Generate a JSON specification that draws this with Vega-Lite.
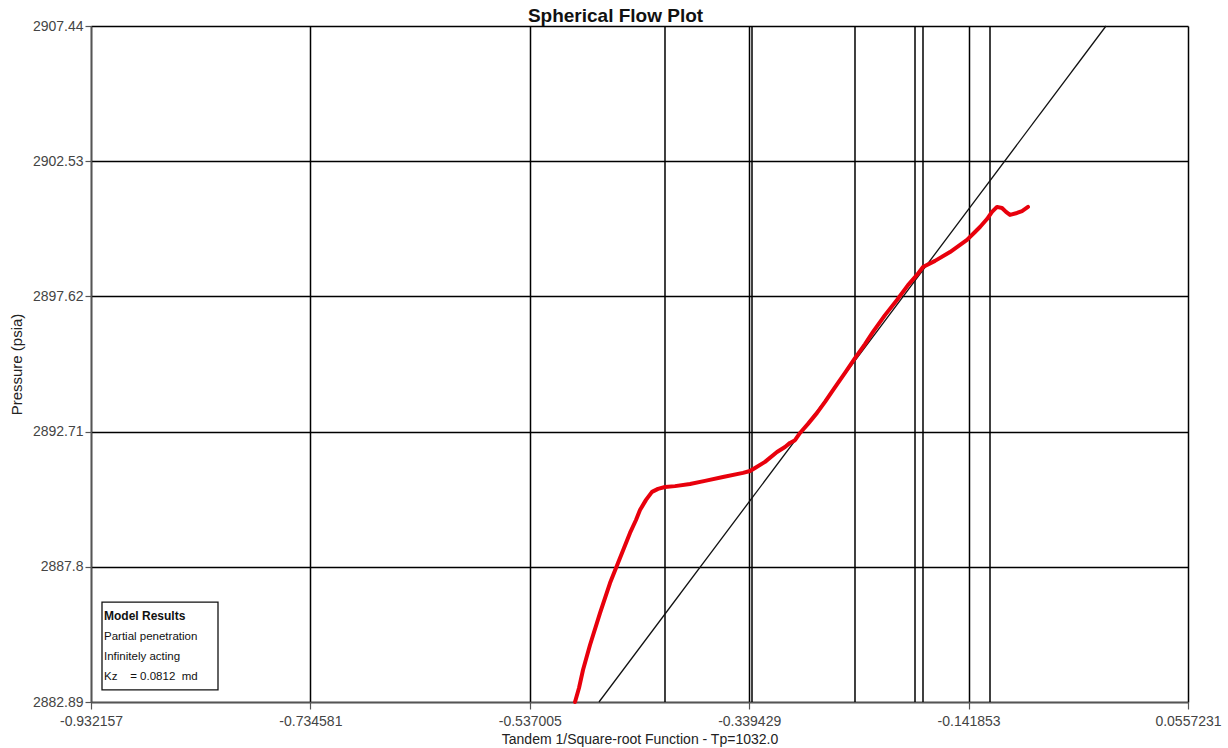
{
  "$schema": "https://vega.github.io/schema/vega-lite/v6.json",
  "width": 1097,
  "height": 676,
  "autosize": {"type": "none"},
  "padding": {"left": 91, "top": 26, "right": 40, "bottom": 46},
  "background": "white",
  "title": {"text": "Spherical Flow Plot", "font": "Liberation Sans", "fontSize": 19, "fontWeight": "bold", "color": "#111111", "offset": -7, "anchor": "middle", "dx": -24},
  "config": {
    "view": {"stroke": null},
    "font": "Liberation Sans",
    "axis": {
      "grid": true, "gridColor": "#000000", "gridWidth": 1.5,
      "domainColor": "#555555", "domainWidth": 1.5,
      "tickColor": "#555555", "tickWidth": 1.2,
      "labelFont": "Liberation Sans", "labelFontSize": 14, "labelColor": "#444444",
      "labelFlush": false, "labelOverlap": false,
      "titleFont": "Liberation Sans", "titleFontWeight": "normal", "titleColor": "#222222"
    },
    "axisX": {"tickSize": 7, "labelPadding": 5, "titleFontSize": 14, "titlePadding": 4},
    "axisY": {"tickSize": 6, "labelPadding": 2, "titleFontSize": 15, "titlePadding": 8}
  },
  "datasets": {
    "pressure": [
      {"x": -0.49630, "y": 2882.89}, {"x": -0.49270, "y": 2883.40}, {"x": -0.48910, "y": 2884.05},
      {"x": -0.48279, "y": 2884.96}, {"x": -0.47379, "y": 2886.12}, {"x": -0.46478, "y": 2887.21},
      {"x": -0.45758, "y": 2887.94}, {"x": -0.45217, "y": 2888.48}, {"x": -0.44677, "y": 2889.03},
      {"x": -0.44137, "y": 2889.50}, {"x": -0.43777, "y": 2889.86}, {"x": -0.43236, "y": 2890.23},
      {"x": -0.42696, "y": 2890.52}, {"x": -0.42156, "y": 2890.63}, {"x": -0.41525, "y": 2890.70},
      {"x": -0.40625, "y": 2890.73}, {"x": -0.39274, "y": 2890.81}, {"x": -0.37923, "y": 2890.92},
      {"x": -0.36302, "y": 2891.06}, {"x": -0.34501, "y": 2891.21}, {"x": -0.33871, "y": 2891.28},
      {"x": -0.33420, "y": 2891.39}, {"x": -0.32520, "y": 2891.61}, {"x": -0.31439, "y": 2891.97},
      {"x": -0.30719, "y": 2892.15}, {"x": -0.30269, "y": 2892.30}, {"x": -0.29818, "y": 2892.40},
      {"x": -0.29368, "y": 2892.66}, {"x": -0.28648, "y": 2892.99}, {"x": -0.27837, "y": 2893.39},
      {"x": -0.27117, "y": 2893.79}, {"x": -0.26396, "y": 2894.22}, {"x": -0.25316, "y": 2894.84},
      {"x": -0.24415, "y": 2895.38}, {"x": -0.23515, "y": 2895.89}, {"x": -0.22794, "y": 2896.33},
      {"x": -0.21714, "y": 2896.94}, {"x": -0.20633, "y": 2897.49}, {"x": -0.19642, "y": 2898.03},
      {"x": -0.18832, "y": 2898.40}, {"x": -0.18292, "y": 2898.69}, {"x": -0.17211, "y": 2898.91},
      {"x": -0.15860, "y": 2899.23}, {"x": -0.14329, "y": 2899.67}, {"x": -0.13609, "y": 2899.96},
      {"x": -0.13159, "y": 2900.14}, {"x": -0.12528, "y": 2900.43}, {"x": -0.12078, "y": 2900.69},
      {"x": -0.11628, "y": 2900.87}, {"x": -0.11177, "y": 2900.83}, {"x": -0.10817, "y": 2900.69},
      {"x": -0.10457, "y": 2900.58}, {"x": -0.09827, "y": 2900.65}, {"x": -0.09376, "y": 2900.72},
      {"x": -0.08836, "y": 2900.87}
    ],
    "fit": [
      {"x": -0.47469, "y": 2882.89},
      {"x": -0.01812, "y": 2907.44}
    ],
    "markers": [
      {"x": -0.41526}, {"x": -0.33691}, {"x": -0.24416},
      {"x": -0.19012}, {"x": -0.18292}, {"x": -0.12258}
    ],
    "box": [
      {"x": -0.92225, "x2": -0.81779, "y": 2886.52, "y2": 2883.33}
    ],
    "legend": [
      {"x": -0.92045, "y": 2886.01, "line": 0, "label": "Model Results"},
      {"x": -0.92045, "y": 2885.25, "line": 1, "label": "Partial penetration"},
      {"x": -0.92045, "y": 2884.52, "line": 2, "label": "Infinitely acting"},
      {"x": -0.92045, "y": 2883.80, "line": 3, "label": "Kz\u00a0\u00a0\u00a0\u00a0= 0.0812\u00a0\u00a0md"}
    ]
  },
  "layer": [
    {
      "data": {"name": "markers"},
      "mark": {"type": "rule", "color": "#000000", "strokeWidth": 1.5},
      "encoding": {
        "x": {"field": "x", "type": "quantitative", "scale": {"domain": [-0.932157, 0.0557231], "nice": false, "zero": false}, "title": "Tandem 1/Square-root Function - Tp=1032.0",
          "axis": {"values": [-0.932157, -0.734581, -0.537005, -0.339429, -0.141853, 0.0557231], "labelExpr": "replace(format(datum.value, '.6~r'), '\u2212', '-')"}}
      }
    },
    {
      "data": {"name": "fit"},
      "mark": {"type": "line", "color": "#111111", "strokeWidth": 1.3},
      "encoding": {
        "x": {"field": "x", "type": "quantitative", "scale": {"domain": [-0.932157, 0.0557231], "nice": false, "zero": false}, "title": "Tandem 1/Square-root Function - Tp=1032.0",
          "axis": {"values": [-0.932157, -0.734581, -0.537005, -0.339429, -0.141853, 0.0557231], "labelExpr": "replace(format(datum.value, '.6~r'), '\u2212', '-')"}},
        "y": {"field": "y", "type": "quantitative", "scale": {"domain": [2882.89, 2907.44], "nice": false, "zero": false}, "title": "Pressure (psia)",
          "axis": {"values": [2882.89, 2887.8, 2892.71, 2897.62, 2902.53, 2907.44], "labelExpr": "replace(format(datum.value, '.6~r'), '\u2212', '-')"}}
      }
    },
    {
      "data": {"name": "pressure"},
      "mark": {"type": "line", "color": "#e8000c", "strokeWidth": 4, "strokeJoin": "round", "strokeCap": "round"},
      "encoding": {
        "x": {"field": "x", "type": "quantitative", "scale": {"domain": [-0.932157, 0.0557231], "nice": false, "zero": false}, "title": "Tandem 1/Square-root Function - Tp=1032.0",
          "axis": {"values": [-0.932157, -0.734581, -0.537005, -0.339429, -0.141853, 0.0557231], "labelExpr": "replace(format(datum.value, '.6~r'), '\u2212', '-')"}},
        "y": {"field": "y", "type": "quantitative", "scale": {"domain": [2882.89, 2907.44], "nice": false, "zero": false}, "title": "Pressure (psia)",
          "axis": {"values": [2882.89, 2887.8, 2892.71, 2897.62, 2902.53, 2907.44], "labelExpr": "replace(format(datum.value, '.6~r'), '\u2212', '-')"}}
      }
    },
    {
      "data": {"name": "box"},
      "mark": {"type": "rect", "fill": "#ffffff", "stroke": "#111111", "strokeWidth": 1.3},
      "encoding": {
        "x": {"field": "x", "type": "quantitative", "scale": {"domain": [-0.932157, 0.0557231], "nice": false, "zero": false}, "title": "Tandem 1/Square-root Function - Tp=1032.0",
          "axis": {"values": [-0.932157, -0.734581, -0.537005, -0.339429, -0.141853, 0.0557231], "labelExpr": "replace(format(datum.value, '.6~r'), '\u2212', '-')"}},
        "x2": {"field": "x2"},
        "y": {"field": "y", "type": "quantitative", "scale": {"domain": [2882.89, 2907.44], "nice": false, "zero": false}, "title": "Pressure (psia)",
          "axis": {"values": [2882.89, 2887.8, 2892.71, 2897.62, 2902.53, 2907.44], "labelExpr": "replace(format(datum.value, '.6~r'), '\u2212', '-')"}},
        "y2": {"field": "y2"}
      }
    },
    {
      "data": {"name": "legend"},
      "transform": [{"filter": "datum.line === 0"}],
      "mark": {"type": "text", "align": "left", "baseline": "middle", "font": "Liberation Sans", "fontSize": 12, "fontWeight": "bold", "color": "#111111"},
      "encoding": {
        "x": {"field": "x", "type": "quantitative", "scale": {"domain": [-0.932157, 0.0557231], "nice": false, "zero": false}, "title": "Tandem 1/Square-root Function - Tp=1032.0",
          "axis": {"values": [-0.932157, -0.734581, -0.537005, -0.339429, -0.141853, 0.0557231], "labelExpr": "replace(format(datum.value, '.6~r'), '\u2212', '-')"}},
        "y": {"field": "y", "type": "quantitative", "scale": {"domain": [2882.89, 2907.44], "nice": false, "zero": false}, "title": "Pressure (psia)",
          "axis": {"values": [2882.89, 2887.8, 2892.71, 2897.62, 2902.53, 2907.44], "labelExpr": "replace(format(datum.value, '.6~r'), '\u2212', '-')"}},
        "text": {"field": "label"}
      }
    },
    {
      "data": {"name": "legend"},
      "transform": [{"filter": "datum.line !== 0"}],
      "mark": {"type": "text", "align": "left", "baseline": "middle", "font": "Liberation Sans", "fontSize": 11.5, "color": "#111111"},
      "encoding": {
        "x": {"field": "x", "type": "quantitative", "scale": {"domain": [-0.932157, 0.0557231], "nice": false, "zero": false}, "title": "Tandem 1/Square-root Function - Tp=1032.0",
          "axis": {"values": [-0.932157, -0.734581, -0.537005, -0.339429, -0.141853, 0.0557231], "labelExpr": "replace(format(datum.value, '.6~r'), '\u2212', '-')"}},
        "y": {"field": "y", "type": "quantitative", "scale": {"domain": [2882.89, 2907.44], "nice": false, "zero": false}, "title": "Pressure (psia)",
          "axis": {"values": [2882.89, 2887.8, 2892.71, 2897.62, 2902.53, 2907.44], "labelExpr": "replace(format(datum.value, '.6~r'), '\u2212', '-')"}},
        "text": {"field": "label"}
      }
    }
  ]
}
